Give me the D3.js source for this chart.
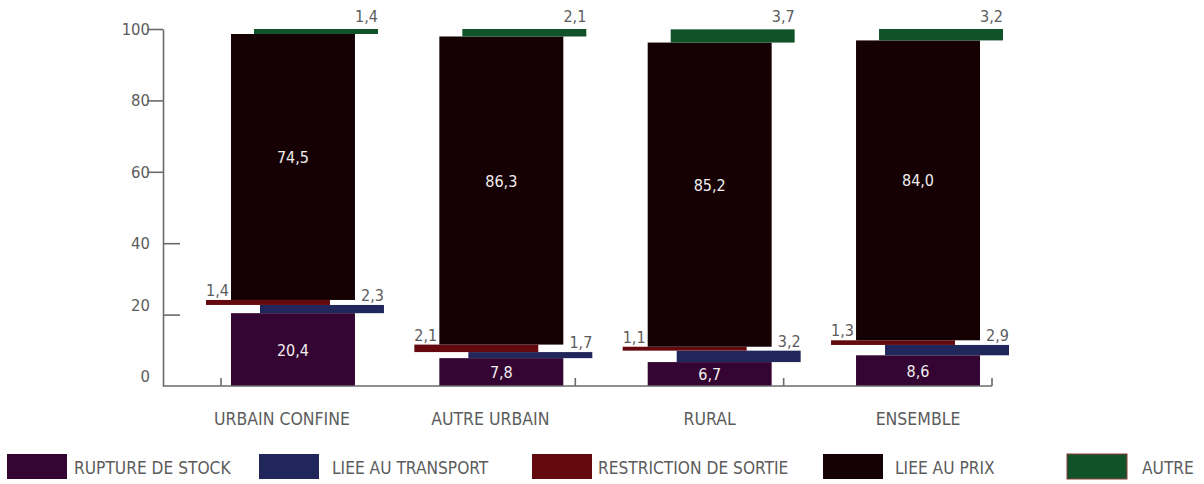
<!DOCTYPE html>
<html>
<head>
<meta charset="utf-8">
<script src="https://cdn.jsdelivr.net/npm/d3@7"></script>
<style>
  html, body { margin: 0; padding: 0; background: #fff; }
  svg { display: block; }
  text { font-family: "DejaVu Sans Condensed", "Liberation Sans Narrow", sans-serif; }
</style>
</head>
<body>
<svg id="chart" width="1204" height="484"></svg>
<script>
// ---- data ----
const categories = ["URBAIN CONFINE", "AUTRE URBAIN", "RURAL", "ENSEMBLE"];
const rupture     = [20.4, 7.8, 6.7, 8.6];
const transport   = [2.3, 1.7, 3.2, 2.9];
const restriction = [1.4, 2.1, 1.1, 1.3];
const prix        = [74.5, 86.3, 85.2, 84.0];
const autre       = [1.4, 2.1, 3.7, 3.2];
const seriesKeys  = ["rupture", "transport", "restriction", "prix", "autre"];
const seriesNames = ["RUPTURE DE STOCK", "LIEE AU TRANSPORT", "RESTRICTION DE SORTIE", "LIEE AU PRIX", "AUTRE"];
const yTicks = [0, 20, 40, 60, 80, 100];

// ---- styles ----
const colors = {
  rupture: "#340432",
  transport: "#21275b",
  restriction: "#640a0f",
  prix: "#150103",
  autre: "#10532b"
};
const dxs = { rupture: 0, transport: 29, restriction: -25, prix: 0, autre: 23 };
const labelMode = { rupture: "inside", transport: "right", restriction: "left", prix: "insideHigh", autre: "right" };

const table = categories.map((c, i) => ({
  cat: c, rupture: rupture[i], transport: transport[i], restriction: restriction[i], prix: prix[i], autre: autre[i]
}));

const fmt = d3.formatLocale({ decimal: ",", thousands: " ", grouping: [3], currency: ["", "€"] }).format(".1f");

const svg = d3.select("#chart");
const axisX0 = 163, axisX1 = 992;
const y = d3.scaleLinear().domain([0, 100]).range([386, 29]);
const x = d3.scaleBand().domain(categories).range([231, 980]).paddingInner(0.405).paddingOuter(0);
const bw = x.bandwidth();

const stack = d3.stack().keys(seriesKeys)(table);

const gray = "#6a6a6a";
const textGray = "#5c5c5c";

stack.forEach(layer => {
  const key = layer.key;
  const g = svg.append("g");
  g.selectAll("rect").data(layer).join("rect")
    .attr("x", d => x(d.data.cat) + dxs[key])
    .attr("y", d => y(d[1]))
    .attr("width", bw)
    .attr("height", d => y(d[0]) - y(d[1]))
    .attr("fill", colors[key]);

  const mode = labelMode[key];
  g.selectAll("text").data(layer).join("text")
    .attr("font-size", 16)
    .attr("fill", mode.startsWith("inside") ? "#f2eeee" : textGray)
    .attr("text-anchor", mode === "left" ? "start" : mode === "right" ? "end" : "middle")
    .attr("x", d => {
      const x0 = x(d.data.cat) + dxs[key];
      if (mode === "left") return x0;
      if (mode === "right") return x0 + bw;
      return x0 + bw / 2;
    })
    .attr("y", d => {
      if (mode === "inside") return (y(d[0]) + y(d[1])) / 2 + 6;
      if (mode === "insideHigh") return (y(d[0]) + y(d[1])) / 2 - 4;
      if (key === "autre") return y(d[1]) - 7;
      return y(d[1]) - 4;
    })
    .text(d => fmt(d[1] - d[0]));
});

// y axis
const yAxis = d3.axisLeft(y).tickValues(yTicks).tickSize(0).tickPadding(13).tickFormat(d3.format("d"));
const ya = svg.append("g").attr("transform", `translate(${axisX0},0)`).call(yAxis);
ya.select(".domain").attr("stroke", gray).attr("stroke-width", 1.6);
ya.selectAll(".tick text")
  .attr("font-size", 16.5).attr("fill", textGray)
  .attr("font-family", '"DejaVu Sans Condensed", sans-serif')
  .attr("dy", d => d <= 20 ? "-0.25em" : "0.32em");
ya.selectAll(".tick").filter(d => d > 0).append("line")
  .attr("x1", d => d >= 60 ? -16 : 0)
  .attr("x2", d => d >= 60 ? 0 : 17)
  .attr("stroke", gray).attr("stroke-width", 1.6);

// x axis
svg.append("line")
  .attr("x1", axisX0).attr("x2", axisX1)
  .attr("y1", y(0)).attr("y2", y(0))
  .attr("stroke", gray).attr("stroke-width", 1.6);
svg.append("g").selectAll("line").data(categories).join("line")
  .attr("x1", (c, i) => i === 0 ? x(c) - 10 : x(c) + bw + 12)
  .attr("x2", (c, i) => i === 0 ? x(c) - 10 : x(c) + bw + 12)
  .attr("y1", y(0)).attr("y2", y(0) - 8)
  .attr("stroke", gray).attr("stroke-width", 1.6);
svg.append("g").selectAll("text").data(categories).join("text")
  .attr("x", (c, i) => x(c) + bw / 2 - (i < 2 ? 11 : 0))
  .attr("y", 425)
  .attr("text-anchor", "middle")
  .attr("font-size", 17.5)
  .attr("fill", textGray)
  .text(c => c);

// legend
const legendX = [7, 259, 532, 823, 1067];
const textX = [74, 332, 598, 895, 1142];
const lg = svg.append("g");
seriesKeys.forEach((k, i) => {
  lg.append("rect")
    .attr("x", legendX[i]).attr("y", 454).attr("width", 60).attr("height", 25)
    .attr("fill", colors[k])
    .attr("stroke", k === "autre" ? "#8a3a3a" : "none")
    .attr("stroke-width", 1);
  lg.append("text")
    .attr("x", textX[i]).attr("y", 474)
    .attr("font-size", 17.2)
    .attr("fill", textGray)
    .text(seriesNames[i]);
});
</script>
</body>
</html>
